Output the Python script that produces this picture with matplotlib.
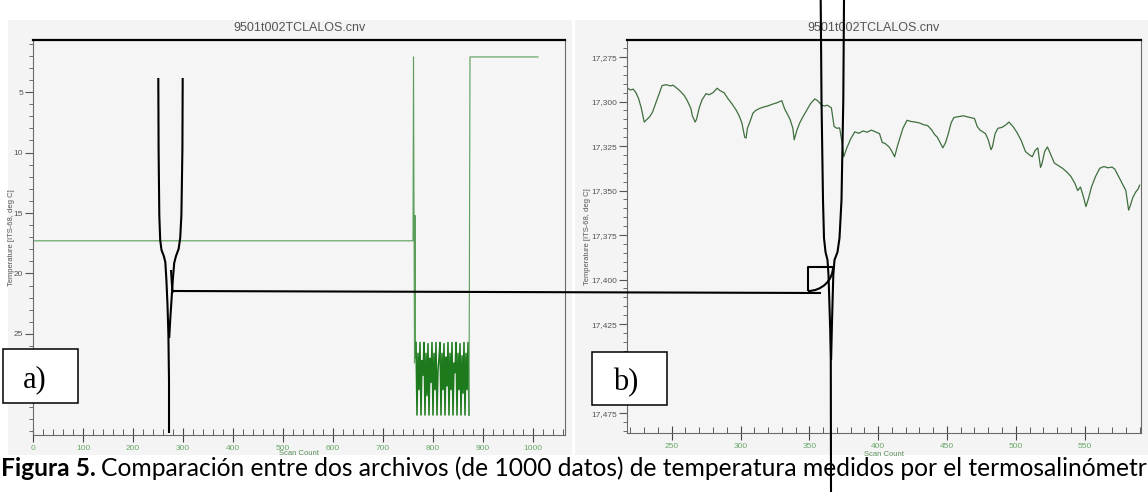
import matplotlib
matplotlib.use('Agg')
import matplotlib.pyplot as plt
from matplotlib.ticker import MultipleLocator, FuncFormatter
from matplotlib.patches import Rectangle, Arc

W, H = 1148, 492

file_title = '9501t002TCLALOS.cnv'
y_label = 'Temperature [ITS-68, deg C]'
x_label = 'Scan Count'
caption_bold = 'Figura 5.'
# the source image crops the caption at the right edge
caption_rest = ('Comparación entre dos archivos (de 1000 datos) de temperatura '
                'medidos por el termosalinómetr')

# panel a): whole file, flat record, spikes and the noisy block at the end
left_scan = [0, 760, 761, 762, 763, 764, 765]
left_temp = [17.3, 17.3, 2.1, 14.8, 27.4, 15.2, 27.0]
noise_scan = list(range(766, 874, 2))
noise_temp = [25.7, 31.7, 26.6, 29.6, 25.7, 31.7, 27.2, 28.4, 25.7, 31.7,
              26.6, 30.1, 25.8, 31.7, 27.0, 29.0, 25.7, 31.7, 26.6, 29.6,
              25.7, 31.7, 28.0, 27.0, 25.7, 31.7, 26.6, 29.6, 25.8, 31.7,
              26.9, 29.3, 25.7, 31.7, 26.6, 29.6, 25.7, 31.7, 27.4, 28.2,
              25.7, 31.7, 26.6, 29.6, 25.8, 31.7, 26.8, 29.9, 25.7, 31.7,
              26.6, 29.6, 25.7, 31.7]
tail_scan = [872, 874, 1010]
tail_temp = [31.7, 2.1, 2.1]

# panel b): zoom on scans ~218-590
right_scan = [218, 220, 222, 224, 226, 228, 230, 232, 234, 236, 239, 241, 243, 246, 249,
              251, 253, 256, 259, 261, 264, 265, 267, 268, 270, 272, 275, 277, 280, 283,
              285, 288, 291, 294, 297, 299, 301, 303, 304, 305, 307, 309, 311, 314, 317,
              320, 323, 326, 330, 332, 334, 336, 338, 339, 341, 343, 345, 348, 351, 354,
              356, 359, 361, 363, 366, 368, 370, 372, 374, 375, 377, 380, 383, 386, 389,
              392, 395, 398, 401, 403, 405, 408, 410, 412, 414, 416, 418, 421, 424, 427,
              430, 433, 436, 439, 441, 443, 445, 447, 449, 451, 453, 455, 458, 462, 466,
              470, 472, 474, 476, 478, 480, 482, 483, 485, 487, 490, 493, 495, 498, 501,
              504, 507, 510, 512, 514, 516, 518, 519, 521, 523, 525, 528, 531, 534, 537,
              540, 543, 545, 547, 549, 551, 553, 555, 558, 561, 564, 567, 570, 572, 574,
              576, 578, 580, 582, 583, 585, 587, 589, 590]
right_temp = [17.2925, 17.2935, 17.2930, 17.2950, 17.2985, 17.3040, 17.3115, 17.3100, 17.3085,
              17.3060, 17.2995, 17.2950, 17.2910, 17.2905, 17.2912, 17.2908, 17.2920, 17.2940,
              17.2965, 17.2990, 17.3040, 17.3080, 17.3115, 17.3100, 17.3035, 17.2990, 17.2955,
              17.2962, 17.2950, 17.2925, 17.2938, 17.2950, 17.2985, 17.3015, 17.3050, 17.3080,
              17.3120, 17.3200, 17.3205, 17.3150, 17.3110, 17.3065, 17.3050, 17.3038, 17.3030,
              17.3024, 17.3015, 17.3008, 17.2995, 17.3040, 17.3070, 17.3100, 17.3150, 17.3215,
              17.3160, 17.3120, 17.3090, 17.3050, 17.3010, 17.2985, 17.2995, 17.3020, 17.3025,
              17.3020, 17.3035, 17.3140, 17.3150, 17.3148, 17.3240, 17.3310, 17.3265, 17.3210,
              17.3170, 17.3178, 17.3165, 17.3172, 17.3160, 17.3170, 17.3180, 17.3230, 17.3235,
              17.3255, 17.3280, 17.3310, 17.3250, 17.3200, 17.3150, 17.3105, 17.3112, 17.3115,
              17.3120, 17.3130, 17.3135, 17.3160, 17.3185, 17.3200, 17.3230, 17.3260, 17.3230,
              17.3180, 17.3120, 17.3090, 17.3085, 17.3080, 17.3088, 17.3095, 17.3140, 17.3160,
              17.3170, 17.3180, 17.3215, 17.3270, 17.3255, 17.3180, 17.3150, 17.3145, 17.3130,
              17.3115, 17.3140, 17.3175, 17.3220, 17.3280, 17.3300, 17.3310, 17.3275, 17.3260,
              17.3370, 17.3350, 17.3280, 17.3255, 17.3290, 17.3345, 17.3360, 17.3375, 17.3395,
              17.3420, 17.3460, 17.3500, 17.3480, 17.3530, 17.3590, 17.3540, 17.3480, 17.3420,
              17.3375, 17.3365, 17.3372, 17.3368, 17.3380, 17.3410, 17.3440, 17.3470, 17.3500,
              17.3610, 17.3590, 17.3540, 17.3510, 17.3490, 17.3470]

# tick labels that sit behind the a) / b) boxes in the original
hidden_left = [30]
hidden_right = ['17,450']

plt.rcParams['font.family'] = ['Liberation Sans', 'DejaVu Sans']

fig = plt.figure(figsize=(W / 100, H / 100), dpi=100)


def px_rect(x0, y0, x1, y1):
    """ pixel box (y down) -> figure fraction [l, b, w, h] """
    return [x0 / W, 1 - y1 / H, (x1 - x0) / W, (y1 - y0) / H]


# light grey panel backgrounds behind everything
bg = fig.add_axes([0, 0, 1, 1], zorder=-5)
bg.set_xlim(0, W)
bg.set_ylim(H, 0)
bg.axis('off')
bg.add_patch(Rectangle((8, 20), 564, 435, color='#f4f4f4', lw=0))
bg.add_patch(Rectangle((575, 20), 573, 435, color='#f4f4f4', lw=0))


def style(ax):
    ax.set_facecolor('#f5f5f5')
    for s in ['left', 'right', 'bottom']:
        ax.spines[s].set_color('#6a6a6a')
        ax.spines[s].set_linewidth(0.8)
    ax.spines['top'].set_color('black')
    ax.spines['top'].set_linewidth(1.6)
    ax.tick_params(axis='y', which='major', direction='out', length=6, width=0.8,
                   color='#555555', labelsize=6, labelcolor='#555555', pad=1)
    ax.tick_params(axis='y', which='minor', direction='out', length=3, width=0.6, color='#555555')
    ax.tick_params(axis='x', which='major', direction='inout', length=10, width=0.8,
                   color='#444444', labelsize=6, labelcolor='#6aa86a', pad=2)
    ax.tick_params(axis='x', which='minor', direction='in', length=4, width=0.6, color='#444444')
    ax.set_ylabel(y_label, fontsize=5.5, color='#555555')
    ax.set_xlabel(x_label, fontsize=5.5, color='#5a8f5a')


# a) full record
ax1 = fig.add_axes(px_rect(33, 40, 565, 435))
ax1.plot(left_scan + noise_scan[:1], left_temp + noise_temp[:1], color='#5a9e5a', lw=0.8)
ax1.plot(noise_scan, noise_temp, color='#1d7a1d', lw=1.1)
ax1.plot(tail_scan, tail_temp, color='#5a9e5a', lw=0.8)
ax1.set_xlim(0, 1064)
ax1.set_ylim(33.35, 0.7)
ax1.xaxis.set_major_locator(MultipleLocator(100))
ax1.xaxis.set_minor_locator(MultipleLocator(20))
ax1.yaxis.set_major_locator(MultipleLocator(5))
ax1.yaxis.set_minor_locator(MultipleLocator(1))
ax1.yaxis.set_major_formatter(FuncFormatter(
    lambda v, p: '' if round(v) in hidden_left else f'{v:g}'))
style(ax1)
ax1.yaxis.set_label_coords(-0.034, 0.5)
ax1.xaxis.set_label_coords(0.5, -0.038)

# b) zoom
ax2 = fig.add_axes(px_rect(627, 40, 1141, 433))
ax2.plot(right_scan, right_temp, color='#3f6f3f', lw=0.9)
ax2.set_xlim(217.5, 591)
ax2.set_ylim(17.4862, 17.2654)
ax2.xaxis.set_major_locator(MultipleLocator(50))
ax2.xaxis.set_minor_locator(MultipleLocator(10))
ax2.yaxis.set_major_locator(MultipleLocator(0.025))
ax2.yaxis.set_minor_locator(MultipleLocator(0.005))


def comma_fmt(v, p):
    s = f'{v:.3f}'.replace('.', ',')
    return '' if s in hidden_right else s


ax2.yaxis.set_major_formatter(FuncFormatter(comma_fmt))
style(ax2)
ax2.yaxis.set_label_coords(-0.07, 0.5)
ax2.xaxis.set_label_coords(0.5, -0.046)

fig.text(299 / W, 1 - 28 / H, file_title, ha='center', va='center', fontsize=9, color='#555555')
fig.text(873 / W, 1 - 28 / H, file_title, ha='center', va='center', fontsize=9, color='#555555')

# caption, bold label then regular text
cap_y = 1 - 476 / H
t1 = fig.text(1 / W, cap_y, caption_bold, fontsize=17.7, fontweight='bold',
              family=['Lato', 'DejaVu Sans'], va='baseline', color='black')
bb = t1.get_window_extent(fig.canvas.get_renderer())
fig.text((bb.x1 + 5) / W, cap_y, caption_rest, fontsize=17.7,
         family=['Lato', 'DejaVu Sans'], va='baseline', color='black')

# hand-drawn annotations on top
ov = fig.add_axes([0, 0, 1, 1], zorder=10)
ov.set_xlim(0, W)
ov.set_ylim(H, 0)
ov.axis('off')
ink = dict(color='black', lw=1.5, solid_capstyle='butt', solid_joinstyle='round')

fun_a_l = [(158.3, 78), (158.6, 150), (159.3, 215), (160.2, 240), (161.5, 250), (163.8, 256),
           (165.3, 262), (166.4, 280), (167.5, 305), (168.4, 335), (169, 380), (169, 433)]
fun_a_r = [(182.7, 78), (182.4, 150), (181.4, 215), (180.2, 238), (178.6, 249), (176, 256),
           (174.2, 263), (172.8, 280), (171.5, 300), (170.2, 320), (169.2, 338)]
fun_b_l = [(820.7, 0), (821.5, 100), (823, 200), (824, 238), (825.5, 252), (827.5, 260),
           (828.5, 275), (829.3, 300), (830.2, 330), (830.8, 360), (831, 492)]
fun_b_r = [(844, 0), (843.3, 100), (841.5, 200), (839.5, 238), (837.5, 252), (834.5, 260),
           (833.3, 275), (832.6, 300), (831.8, 330), (831.1, 360)]
for pts in [fun_a_l, fun_a_r, fun_b_l, fun_b_r,
            [(171, 270), (172.5, 293)], [(172, 291), (821, 293)],
            [(808, 291), (808, 267), (833, 267)]]:
    ov.plot([p[0] for p in pts], [p[1] for p in pts], **ink)
ov.add_patch(Arc((808, 267), 50, 48, theta1=0, theta2=90, color='black', lw=1.5))

# panel letters
for (x0, y0, x1, y1), lab, tx in [((3, 349, 78, 403), 'a)', 23), ((592, 352, 667, 405), 'b)', 613)]:
    ov.add_patch(Rectangle((x0, y0), x1 - x0, y1 - y0, facecolor='white', edgecolor='black', lw=1.1))
    ov.text(tx, (y0 + y1) / 2 + 4, lab, fontsize=22, family='Liberation Serif',
            ha='left', va='center', color='black')

fig.savefig('out.png', dpi=100)
